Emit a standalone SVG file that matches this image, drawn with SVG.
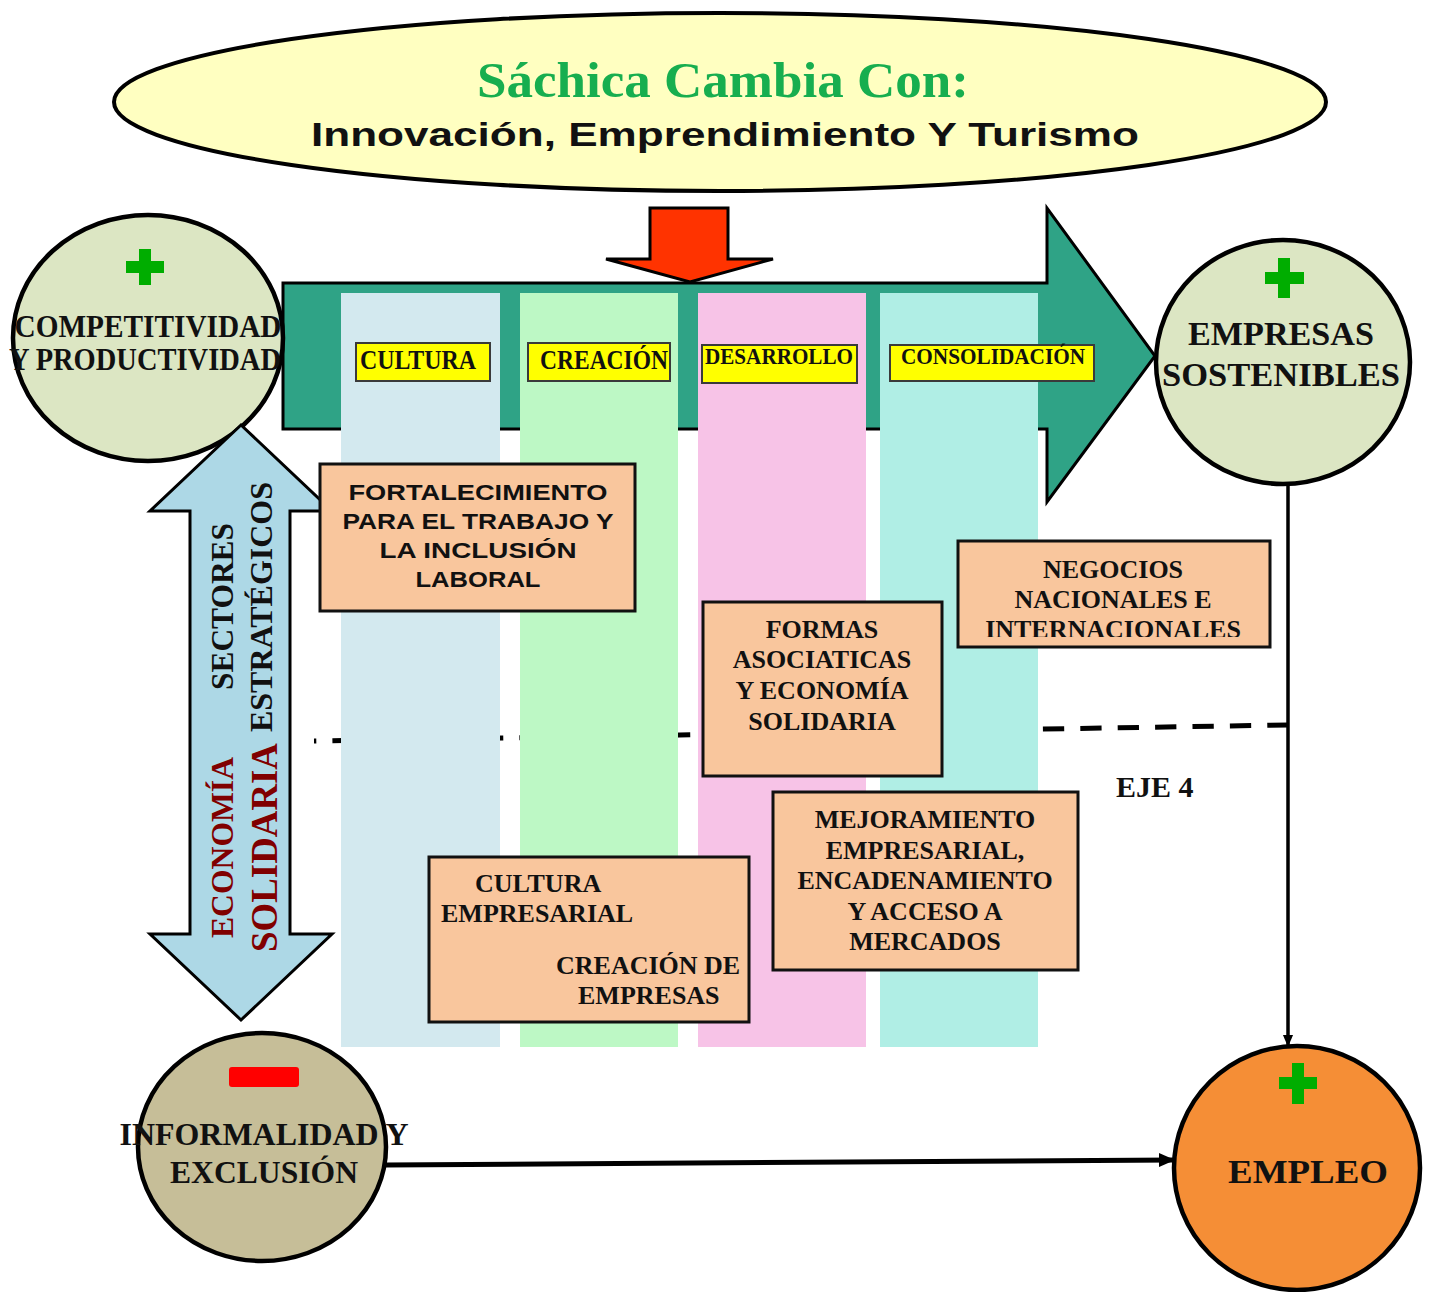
<svg xmlns="http://www.w3.org/2000/svg" width="1431" height="1292" viewBox="0 0 1431 1292">
<style>
.serif{font-family:"Liberation Serif","Times New Roman",serif;font-weight:bold;fill:#111}
.sans{font-family:"Liberation Sans",Arial,sans-serif;font-weight:bold;fill:#111}
.box{fill:#f9c69d;stroke:#111;stroke-width:3}
.lbl{fill:#ffff00;stroke:#3a3a3a;stroke-width:2}
.circ{stroke:#000;stroke-width:4.5}
.plus{fill:#00ad00}
.mid{text-anchor:middle}
</style>
<defs>
<marker id="ah" markerWidth="12" markerHeight="14" refX="13" refY="6" orient="auto" markerUnits="userSpaceOnUse" viewBox="0 0 14 12">
<path d="M0,0 L14,6 L0,12 z" fill="#000"/>
</marker>
<marker id="ah2" markerWidth="16" markerHeight="16" refX="15" refY="8" orient="auto" markerUnits="userSpaceOnUse" viewBox="0 0 16 16">
<path d="M0,1 L16,8 L0,15 z" fill="#000"/>
</marker>
<clipPath id="negclip"><rect x="958" y="541" width="312" height="96"/></clipPath>
</defs>

<g id="title">
<ellipse cx="720" cy="102" rx="606" ry="89" fill="#ffffc1" stroke="#000" stroke-width="4"/>
<text x="723" y="97" class="serif mid" style="fill:#17ae4f" font-size="50" textLength="492" lengthAdjust="spacingAndGlyphs">Sáchica Cambia Con:</text>
<text x="725" y="146" class="sans mid" font-size="33" textLength="828" lengthAdjust="spacingAndGlyphs">Innovación, Emprendimiento Y Turismo</text>
</g>

<g id="main-arrow">
<path d="M283,283 L1047,283 L1047,208 L1155,356 L1047,502 L1047,429 L283,429 Z" fill="#2fa386" stroke="#000" stroke-width="3"/>
</g>

<g id="red-arrow">
<path d="M650,208 L728,208 L728,259 L773,259 L690,282 L606,259 L650,259 Z" fill="#ff3300" stroke="#000" stroke-width="3"/>
</g>

<g id="connectors">
<line x1="314" y1="741" x2="1288" y2="725" stroke="#000" stroke-width="5" stroke-dasharray="21.3 16.1" stroke-dashoffset="19"/>
<line x1="1288" y1="486" x2="1288" y2="1046" stroke="#000" stroke-width="3.5" marker-end="url(#ah)"/>
<line x1="386" y1="1165" x2="1174" y2="1160" stroke="#000" stroke-width="5" marker-end="url(#ah2)"/>
</g>

<g id="columns">
<rect x="341" y="293" width="159" height="754" fill="#d3e9ef"/>
<rect x="520" y="293" width="158" height="754" fill="#bdf8c5"/>
<rect x="698" y="293" width="168" height="754" fill="#f7c3e7"/>
<rect x="880" y="293" width="158" height="754" fill="#b0eee5"/>
</g>

<g id="label-cultura">
<rect x="356" y="343" width="134" height="38" class="lbl"/>
<text x="418" y="369" class="serif mid" font-size="28" textLength="116" lengthAdjust="spacingAndGlyphs">CULTURA</text>
</g>
<g id="label-creacion">
<rect x="528" y="343" width="142" height="38" class="lbl"/>
<text x="604" y="369" class="serif mid" font-size="28" textLength="128" lengthAdjust="spacingAndGlyphs">CREACIÓN</text>
</g>
<g id="label-desarrollo">
<rect x="702" y="345" width="155" height="38" class="lbl"/>
<text x="779" y="364" class="serif mid" font-size="23" textLength="148" lengthAdjust="spacingAndGlyphs">DESARROLLO</text>
</g>
<g id="label-consolidacion">
<rect x="890" y="345" width="204" height="36" class="lbl"/>
<text x="993" y="364" class="serif mid" font-size="23" textLength="184" lengthAdjust="spacingAndGlyphs">CONSOLIDACIÓN</text>
</g>

<g id="competitividad">
<ellipse cx="148" cy="338" rx="135" ry="123" fill="#dce6c3" class="circ"/>
<rect x="139" y="249" width="12" height="36" class="plus"/>
<rect x="126" y="261" width="38" height="12" class="plus"/>
<text x="148" y="337" class="serif mid" font-size="31" textLength="267" lengthAdjust="spacingAndGlyphs">COMPETITIVIDAD</text>
<text x="145" y="370" class="serif mid" font-size="31" textLength="272" lengthAdjust="spacingAndGlyphs">Y PRODUCTIVIDAD</text>
</g>

<g id="empresas-sostenibles">
<ellipse cx="1283" cy="362" rx="127" ry="122" fill="#dce6c3" class="circ"/>
<rect x="1278" y="258" width="12" height="40" class="plus"/>
<rect x="1265" y="272" width="39" height="12" class="plus"/>
<text x="1281" y="345" class="serif mid" font-size="34" textLength="186" lengthAdjust="spacingAndGlyphs">EMPRESAS</text>
<text x="1281" y="386" class="serif mid" font-size="34" textLength="238" lengthAdjust="spacingAndGlyphs">SOSTENIBLES</text>
</g>

<g id="informalidad">
<ellipse cx="262" cy="1147" rx="124" ry="114" fill="#c6be98" class="circ"/>
<rect x="229" y="1067" width="70" height="20" rx="3" fill="#ff0000"/>
<text x="264" y="1145" class="serif mid" font-size="31" textLength="289" lengthAdjust="spacingAndGlyphs">INFORMALIDAD Y</text>
<text x="264" y="1183" class="serif mid" font-size="31" textLength="188" lengthAdjust="spacingAndGlyphs">EXCLUSIÓN</text>
</g>

<g id="empleo">
<ellipse cx="1297" cy="1168" rx="123" ry="122" fill="#f58e36" class="circ"/>
<rect x="1292" y="1063" width="12" height="41" class="plus"/>
<rect x="1279" y="1077" width="38" height="12" class="plus"/>
<text x="1308" y="1183" class="serif mid" font-size="34" textLength="160" lengthAdjust="spacingAndGlyphs">EMPLEO</text>
</g>

<g id="double-arrow">
<path d="M241,425 L332,511 L290,511 L290,934 L332,934 L241,1020 L150,934 L190,934 L190,511 L150,511 Z" fill="#add8e6" stroke="#000" stroke-width="3"/>
<text transform="translate(233,690) rotate(-90)" class="serif" font-size="31" textLength="167" lengthAdjust="spacingAndGlyphs">SECTORES</text>
<text transform="translate(272,732) rotate(-90)" class="serif" font-size="31" textLength="250" lengthAdjust="spacingAndGlyphs">ESTRATÉGICOS</text>
<text transform="translate(233,938) rotate(-90)" class="serif" style="fill:#800000" font-size="31" textLength="181" lengthAdjust="spacingAndGlyphs">ECONOMÍA</text>
<text transform="translate(277,952) rotate(-90)" class="serif" style="fill:#800000" font-size="37" textLength="209" lengthAdjust="spacingAndGlyphs">SOLIDARIA</text>
</g>

<g id="box-fortalecimiento">
<rect x="320" y="464" width="315" height="147" class="box"/>
<text x="478" y="500" class="sans mid" font-size="22" textLength="259" lengthAdjust="spacingAndGlyphs">FORTALECIMIENTO</text>
<text x="478" y="529" class="sans mid" font-size="22" textLength="271" lengthAdjust="spacingAndGlyphs">PARA EL TRABAJO Y</text>
<text x="478" y="558" class="sans mid" font-size="22" textLength="197" lengthAdjust="spacingAndGlyphs">LA INCLUSIÓN</text>
<text x="478" y="587" class="sans mid" font-size="22" textLength="125" lengthAdjust="spacingAndGlyphs">LABORAL</text>
</g>

<g id="box-negocios">
<rect x="958" y="541" width="312" height="106" class="box"/>
<g clip-path="url(#negclip)">
<text x="1113" y="578" class="serif mid" font-size="26">NEGOCIOS</text>
<text x="1113" y="608" class="serif mid" font-size="26">NACIONALES E</text>
<text x="1113" y="638" class="serif mid" font-size="26">INTERNACIONALES</text>
</g>
</g>

<g id="box-formas">
<rect x="703" y="602" width="239" height="174" class="box"/>
<text x="822" y="638" class="serif mid" font-size="26">FORMAS</text>
<text x="822" y="668" class="serif mid" font-size="26">ASOCIATICAS</text>
<text x="822" y="699" class="serif mid" font-size="26">Y ECONOMÍA</text>
<text x="822" y="730" class="serif mid" font-size="26">SOLIDARIA</text>
</g>

<g id="box-mejoramiento">
<rect x="773" y="792" width="305" height="178" class="box"/>
<text x="925" y="828" class="serif mid" font-size="26">MEJORAMIENTO</text>
<text x="925" y="859" class="serif mid" font-size="26">EMPRESARIAL,</text>
<text x="925" y="889" class="serif mid" font-size="26">ENCADENAMIENTO</text>
<text x="925" y="920" class="serif mid" font-size="26">Y ACCESO A</text>
<text x="925" y="950" class="serif mid" font-size="26">MERCADOS</text>
</g>

<g id="box-cultura-empresarial">
<rect x="429" y="857" width="320" height="165" class="box"/>
<text x="475" y="892" class="serif" font-size="26">CULTURA</text>
<text x="441" y="922" class="serif" font-size="26">EMPRESARIAL</text>
<text x="556" y="974" class="serif" font-size="26">CREACIÓN DE</text>
<text x="578" y="1004" class="serif" font-size="26">EMPRESAS</text>
</g>

<g id="eje4">
<text x="1116" y="797" class="serif" font-size="30">EJE 4</text>
</g>
</svg>
